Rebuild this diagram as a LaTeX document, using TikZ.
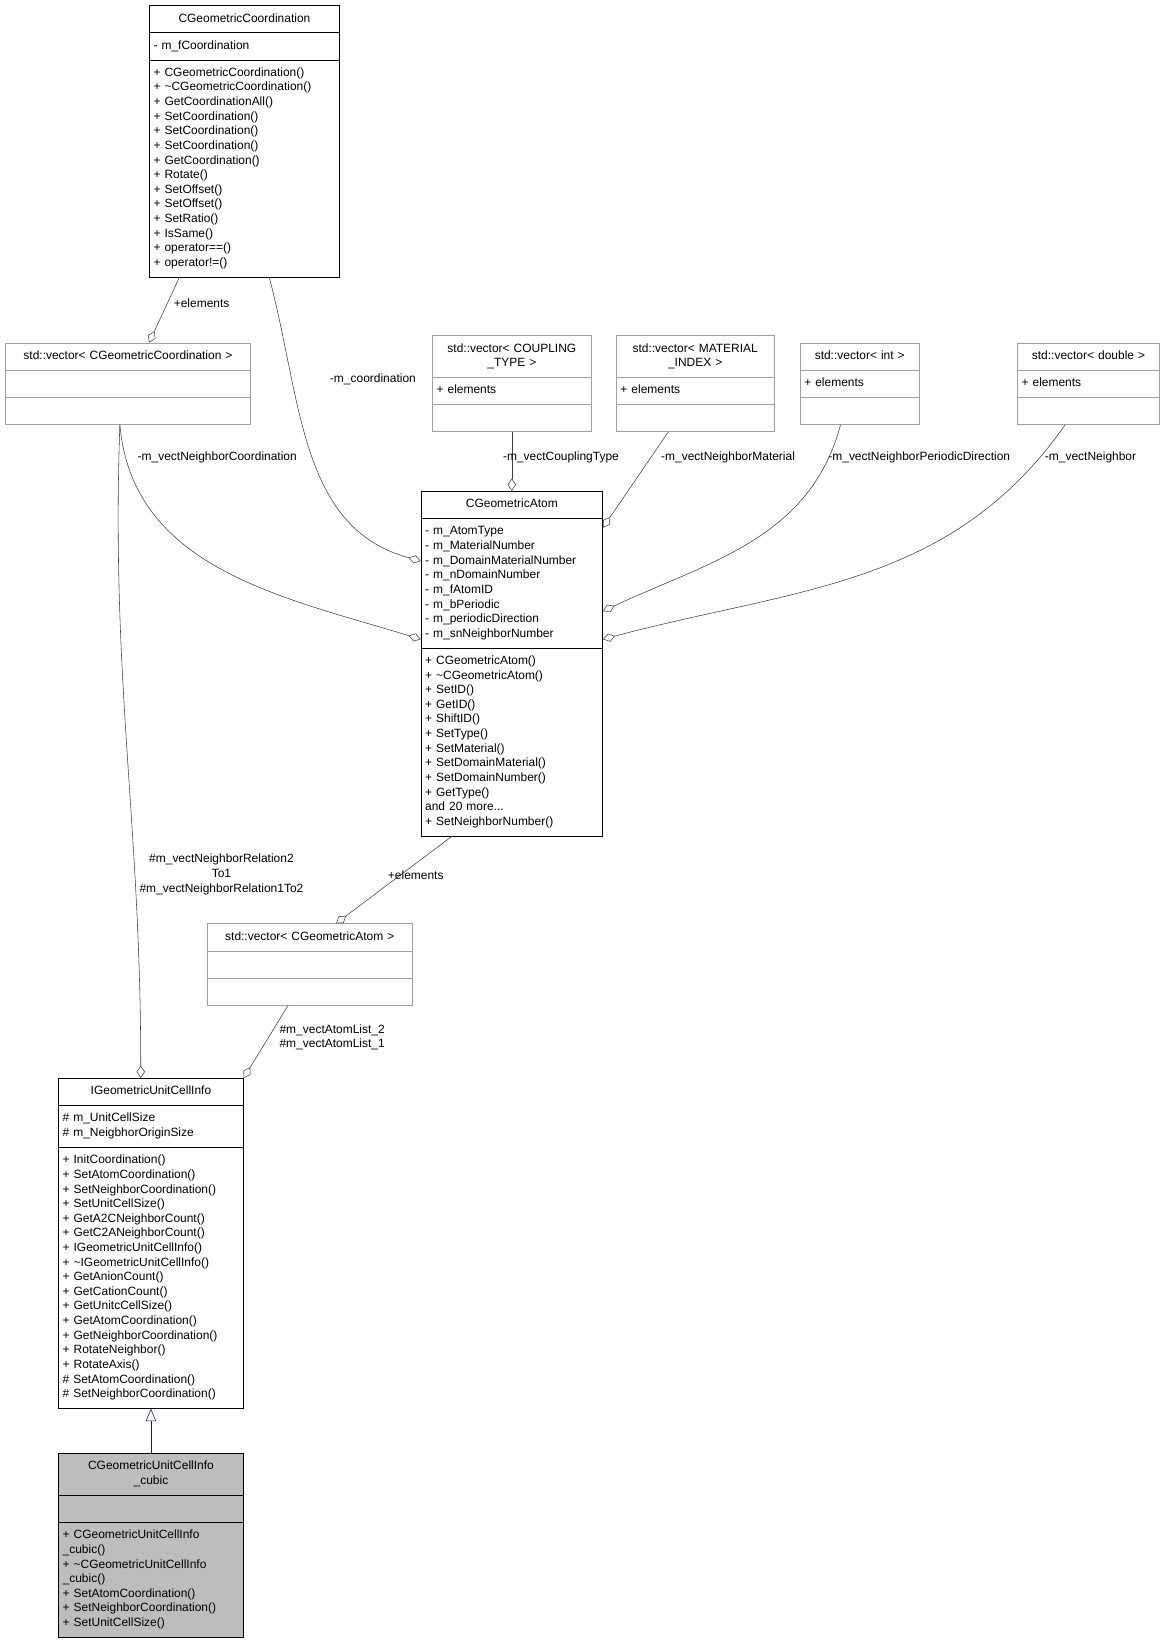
\documentclass[tikz,border=0pt]{standalone}
\usepackage{fontspec}
\setmainfont{Liberation Sans}
\usetikzlibrary{shapes.multipart,arrows.meta}
\definecolor{edgegray}{HTML}{404040}
\definecolor{boxgray}{HTML}{A0A0A0}
\definecolor{inherit}{HTML}{191970}
\newcommand\tline[1]{\makebox[\hsize]{\strut#1}}
\tikzset{
  cls/.style={rectangle split, rectangle split parts=3, draw=black, fill=white,
    anchor=north, font=\fontsize{8.6}{10.5}\selectfont, inner xsep=3pt, inner ysep=4.3pt,
    align=left},
  tmpl/.style={cls, draw=boxgray},
  rel/.style={draw=edgegray, -{Diamond[open,fill=white,length=9pt,width=6pt]}},
  lbl/.style={font=\fontsize{8.6}{10.5}\selectfont, align=center, inner sep=0pt}
}
\begin{document}
\begin{tikzpicture}[x=0.75pt,y=-0.75pt]
\useasboundingbox (0,0) rectangle (1117,1570);
% classes
\node[cls, text width=130.5pt] (coord) at (234,5) {\tline{CGeometricCoordination}
  \nodepart{two} \strut- m\_fCoordination
  \nodepart{three} \strut+ CGeometricCoordination()\\ + \textasciitilde CGeometricCoordination()\\
  + GetCoordinationAll()\\ + SetCoordination()\\ + SetCoordination()\\ + SetCoordination()\\
  + GetCoordination()\\ + Rotate()\\ + SetOffset()\\ + SetOffset()\\ + SetRatio()\\
  + IsSame()\\ + operator==()\\ + operator!=()\strut};
\node[tmpl, text width=170.25pt] (vcoord) at (122.5,328) {\tline{std::vector< CGeometricCoordination >}
  \nodepart{two} \strut \nodepart{three} \strut};
\node[tmpl, text width=108pt] (vcoupling) at (490,321) {\tline{std::vector< COUPLING}\\\tline{\_TYPE >}
  \nodepart{two} \strut+ elements \nodepart{three} \strut};
\node[tmpl, text width=107.25pt] (vmaterial) at (665.5,321) {\tline{std::vector< MATERIAL}\\\tline{\_INDEX >}
  \nodepart{two} \strut+ elements \nodepart{three} \strut};
\node[tmpl, text width=79.5pt] (vint) at (823,328) {\tline{std::vector< int >}
  \nodepart{two} \strut+ elements \nodepart{three} \strut};
\node[tmpl, text width=96pt] (vdouble) at (1042,328) {\tline{std::vector< double >}
  \nodepart{two} \strut+ elements \nodepart{three} \strut};
\node[cls, text width=124.5pt] (atom) at (490,470) {\tline{CGeometricAtom}
  \nodepart{two} \strut- m\_AtomType\\ - m\_MaterialNumber\\ - m\_DomainMaterialNumber\\
  - m\_nDomainNumber\\ - m\_fAtomID\\ - m\_bPeriodic\\ - m\_periodicDirection\\ - m\_snNeighborNumber\strut
  \nodepart{three} \strut+ CGeometricAtom()\\ + \textasciitilde CGeometricAtom()\\ + SetID()\\ + GetID()\\
  + ShiftID()\\ + SetType()\\ + SetMaterial()\\ + SetDomainMaterial()\\ + SetDomainNumber()\\
  + GetType()\\ and 20 more...\\ + SetNeighborNumber()\strut};
\node[tmpl, text width=141.75pt] (vatom) at (296.5,884) {\tline{std::vector< CGeometricAtom >}
  \nodepart{two} \strut \nodepart{three} \strut};
\node[cls, text width=126.75pt] (cellinfo) at (144.5,1032) {\tline{IGeometricUnitCellInfo}
  \nodepart{two} \strut\# m\_UnitCellSize\\ \# m\_NeigbhorOriginSize\strut
  \nodepart{three} \strut+ InitCoordination()\\ + SetAtomCoordination()\\ + SetNeighborCoordination()\\
  + SetUnitCellSize()\\ + GetA2CNeighborCount()\\ + GetC2ANeighborCount()\\ + IGeometricUnitCellInfo()\\
  + \textasciitilde IGeometricUnitCellInfo()\\ + GetAnionCount()\\ + GetCationCount()\\ + GetUnitcCellSize()\\
  + GetAtomCoordination()\\ + GetNeighborCoordination()\\ + RotateNeighbor()\\ + RotateAxis()\\
  \# SetAtomCoordination()\\ \# SetNeighborCoordination()\strut};
\node[cls, fill=boxgray!70, text width=126.75pt] (cubic) at (144.5,1391) {\tline{CGeometricUnitCellInfo}\\\tline{\_cubic}
  \nodepart{two} \strut \nodepart{three} \strut+ CGeometricUnitCellInfo\\\_cubic()\\ + \textasciitilde CGeometricUnitCellInfo\\\_cubic()\\
  + SetAtomCoordination()\\ + SetNeighborCoordination()\\ + SetUnitCellSize()\strut};
% relations
\draw[rel] ([shift={(29,0)}]coord.south west) -- ([shift={(138,0)}]vcoord.north west);
\draw[rel] ([shift={(115,0)}]coord.south west) to[out=-75,in=165] ([shift={(0,67)}]atom.north west);
\draw[rel] ([shift={(110,0)}]vcoord.south west) to[out=-85,in=163] ([shift={(0,142)}]atom.north west);
\draw[rel] ([shift={(110,0)}]vcoord.south west) to[out=-92,in=90] ([shift={(79,0)}]cellinfo.north west);
\draw[rel] (vcoupling.south) -- (atom.north);
\draw[rel] ([shift={(50,0)}]vmaterial.south west) -- ([shift={(0,35)}]atom.north east);
\draw[rel] ([shift={(39,0)}]vint.south west) to[out=-105,in=25] ([shift={(0,115)}]atom.north east);
\draw[rel] ([shift={(46,0)}]vdouble.south west) to[out=-125,in=15] ([shift={(0,142)}]atom.north east);
\draw[rel] ([shift={(30,0)}]atom.south west) -- ([shift={(124,0)}]vatom.north west);
\draw[rel] ([shift={(78,0)}]vatom.south west) -- (cellinfo.north east);
\draw[draw=inherit, -{Triangle[open,fill=white,length=9pt,width=7.5pt]}] (cubic.north) -- (cellinfo.south);
% labels
\node[lbl] (l1) at (193,290) {+elements};
\node[lbl] (l2) at (357,363) {-m\_coordination};
\node[lbl] (l3) at (208,438) {-m\_vectNeighborCoordination};
\node[lbl] (l4) at (212,837) {\#m\_vectNeighborRelation2\\To1\\\#m\_vectNeighborRelation1To2};
\node[lbl] (l5) at (537,438) {-m\_vectCouplingType};
\node[lbl] (l6) at (697,438) {-m\_vectNeighborMaterial};
\node[lbl] (l7) at (880,438) {-m\_vectNeighborPeriodicDirection};
\node[lbl] (l8) at (1044,438) {-m\_vectNeighbor};
\node[lbl] (l9) at (398,838) {+elements};
\node[lbl] (l10) at (318,993) {\#m\_vectAtomList\_2\\\#m\_vectAtomList\_1};
\end{tikzpicture}
\end{document}
